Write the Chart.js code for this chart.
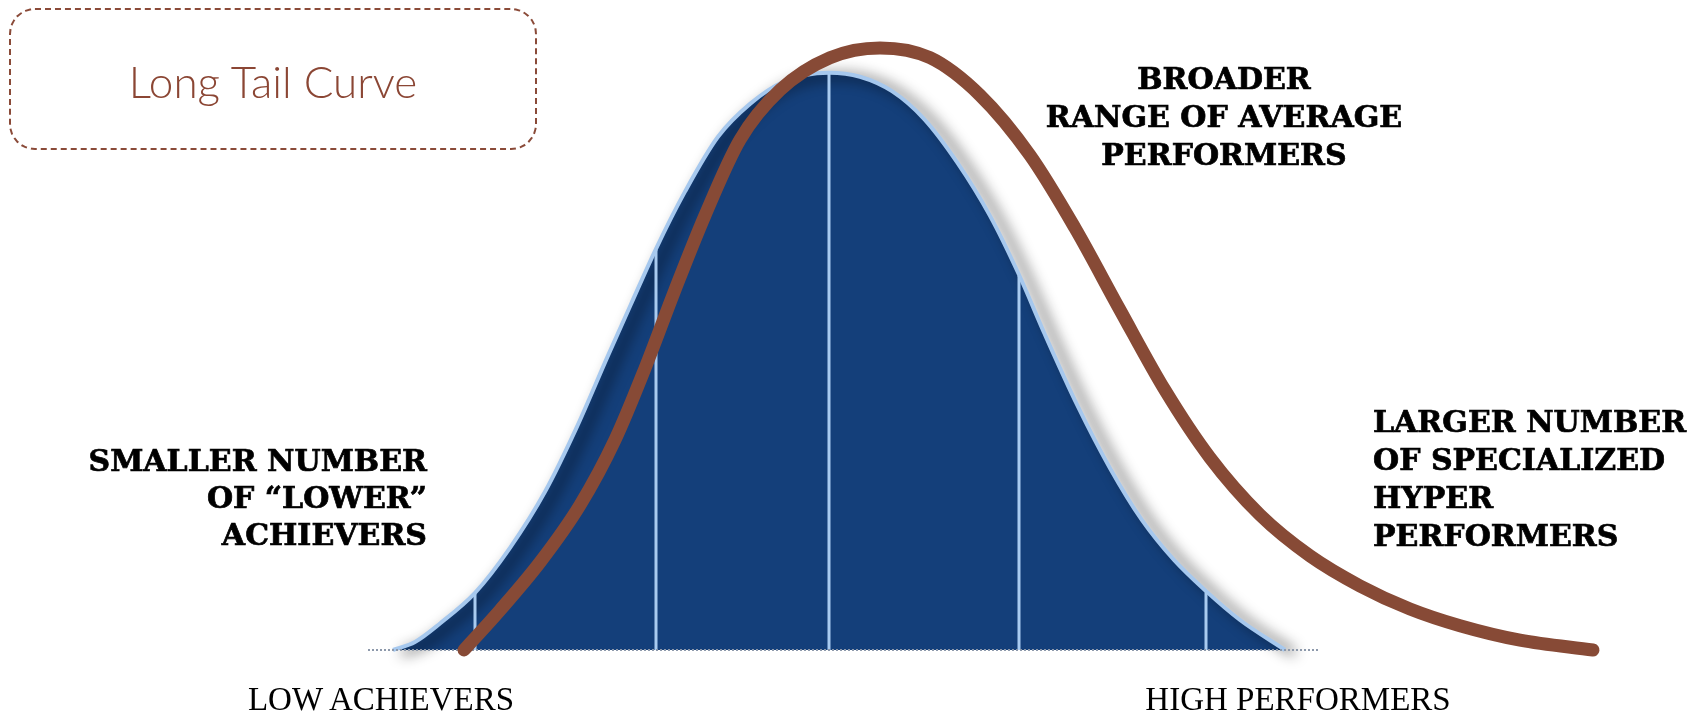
<!DOCTYPE html>
<html>
<head>
<meta charset="utf-8">
<script src="https://cdn.jsdelivr.net/npm/chart.js@4"></script>
<style>
    html, body { margin: 0; padding: 0; background: #ffffff; }
    #wrap { position: relative; width: 1705px; height: 715px; overflow: hidden; }
    #chart { position: absolute; left: 0; top: 0; }
    .titleBox {
        position: absolute; left: 9px; top: 8px; width: 528px; height: 142px;
        box-sizing: border-box; border: 2px dashed #8a4a38; border-radius: 26px;
        display: flex; align-items: center; justify-content: center;
        font-family: Lato, "Open Sans", sans-serif; font-weight: 300; font-size: 44px;
        color: #8b4634; padding-top: 4px;
    }
    .note {
        position: absolute; font-family: "DejaVu Serif", serif; font-weight: bold;
        font-size: 30px; line-height: 38px; color: #000; white-space: nowrap;
        -webkit-text-stroke: 0.7px #000;
    }
    .axisLabel {
        position: absolute; font-family: "Liberation Serif", "Times New Roman", serif;
        font-size: 33px; line-height: 40px; color: #000; white-space: nowrap;
        transform: translateX(-50%);
    }
</style>
</head>
<body>
<div id="wrap">
    <canvas id="chart" width="1705" height="715"></canvas>
    <div class="titleBox">Long Tail Curve</div>
    <div class="note" style="left:1224px; top:60px; text-align:center; transform:translateX(-50%);">BROADER<br>RANGE OF AVERAGE<br>PERFORMERS</div>
    <div class="note" style="right:1278px; top:442px; line-height:37px; text-align:right;">SMALLER NUMBER<br>OF “LOWER”<br>ACHIEVERS</div>
    <div class="note" style="left:1373px; top:403px; text-align:left;">LARGER NUMBER<br>OF SPECIALIZED<br>HYPER<br>PERFORMERS</div>
    <div class="axisLabel" style="left:381px; top:679px;">LOW ACHIEVERS</div>
    <div class="axisLabel" style="left:1298px; top:679px;">HIGH PERFORMERS</div>
</div>
<script>
// bell curve (normal distribution)
const bellX = [3.2, 5.4, 7.9, 11.4, 14.9, 18.4, 21.5, 24.7, 27.1, 29.5, 32.4, 35.7, 38.9, 42.2, 46.8,
    49.9, 53.1, 56.3, 59.6, 62.9, 65.8, 68.4, 71.6, 74.9, 78.1, 81.3, 84.5, 87.9, 92.4];
const bellY = [0, 1.4, 4.6, 9.9, 17.7, 27.4, 38.3, 51.0, 60.3, 69.5, 79.4, 88.9, 94.6, 98.4, 100,
    99.3, 96.8, 92.0, 84.5, 75.2, 65.0, 54.6, 42.5, 31.5, 22.5, 15.6, 10.2, 5.2, 0];

// section dividers inside the bell
const dividerX = [11.4, 29.5, 46.8, 65.8, 84.5];
const dividerTop = [9.7, 69.3, 99.8, 64.8, 10.0];

// long tail curve
const tailX = [10.3, 13.9, 17.9, 21.9, 25.4, 28.4, 31.4, 34.4, 37.9, 41.9, 46.9, 51.9, 56.9, 61.9,
    66.9, 71.4, 75.9, 80.4, 84.9, 89.9, 94.9, 99.9, 104.9, 109.9, 115.9, 123.2];
const tailY = [0, 6.9, 15.2, 25.1, 36.4, 48.8, 62.4, 75.3, 88.4, 97.0, 102.6, 104.3, 102.6, 96.1,
    85.7, 73.1, 58.9, 45.0, 33.3, 23.4, 16.3, 11.1, 7.1, 4.2, 1.7, 0];

const baselineX = [0.7, 95.9];

function toPoints(xs, ys) {
    return xs.map((x, i) => ({ x: x, y: ys[i] }));
}

const dividerPoints = [];
dividerX.forEach((x, i) => {
    dividerPoints.push({ x: x, y: 0 }, { x: x, y: dividerTop[i] }, { x: x, y: null });
});

// shadow on the right edge of the bell
const bellShadow = {
    id: 'bellShadow',
    beforeDatasetDraw(chart, args) {
        if (args.index !== 3) return;
        const ctx = chart.ctx;
        ctx.save();
        ctx.shadowColor = 'rgba(0, 0, 0, 0.9)';
        ctx.shadowBlur = 14;
        ctx.shadowOffsetX = 9;
        ctx.shadowOffsetY = 3;
    },
    afterDatasetDraw(chart, args) {
        if (args.index !== 3) return;
        chart.ctx.restore();
    }
};

new Chart(document.getElementById('chart'), {
    type: 'line',
    data: {
        datasets: [{
            label: 'Long tail',
            data: toPoints(tailX, tailY),
            borderColor: '#874a36',
            borderWidth: 13,
            borderCapStyle: 'round',
            borderJoinStyle: 'round',
            cubicInterpolationMode: 'monotone',
            fill: false,
            clip: false,
            order: 0
        }, {
            label: 'Baseline',
            data: baselineX.map(x => ({ x: x, y: 0 })),
            borderColor: '#8d99ab',
            borderWidth: 2,
            borderDash: [2, 2],
            fill: false,
            clip: false,
            order: 1
        }, {
            label: 'Dividers',
            data: dividerPoints,
            borderColor: '#a9cbf0',
            borderWidth: 3,
            spanGaps: false,
            tension: 0,
            fill: false,
            order: 2
        }, {
            label: 'Bell curve',
            data: toPoints(bellX, bellY),
            borderColor: '#a6c8ee',
            borderWidth: 4,
            backgroundColor: '#143f7a',
            cubicInterpolationMode: 'monotone',
            fill: 'origin',
            clip: false,
            order: 3
        }]
    },
    options: {
        responsive: false,
        animation: false,
        layout: { padding: { left: 361, right: 104, top: 15, bottom: 65 } },
        elements: { point: { radius: 0 } },
        scales: {
            x: { type: 'linear', min: 0, max: 124, display: false },
            y: { min: 0, max: 110, display: false }
        },
        plugins: {
            legend: { display: false },
            tooltip: { enabled: false }
        }
    },
    plugins: [bellShadow]
});
</script>
</body>
</html>
